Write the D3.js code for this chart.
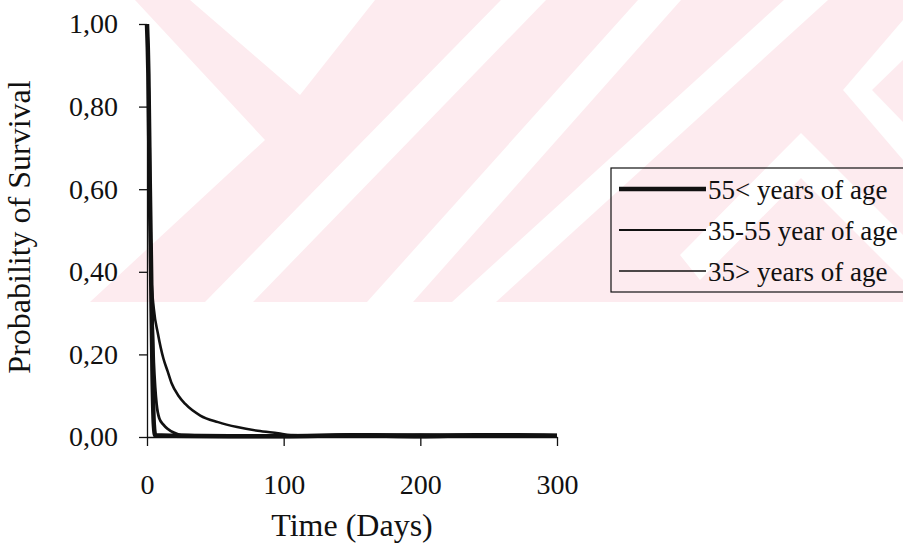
<!DOCTYPE html>
<html>
<head>
<meta charset="utf-8">
<script src="https://cdnjs.cloudflare.com/ajax/libs/d3/7.8.5/d3.min.js"></script>
<style>
  html, body { margin: 0; padding: 0; background: #fff; }
  svg { display: block; font-family: "Liberation Serif", "Times New Roman", serif; }
</style>
</head>
<body>
<div id="chart"></div>
<script>
// survival curves (day, probability)
const seriesNames = ['55< years of age', '35-55 year of age', '35> years of age'];

const daysOld  = [0, 1, 2, 3, 4, 5, 6, 20, 60, 100, 150, 200, 240, 270, 300];
const survOld  = [1.0, 0.88, 0.62, 0.40, 0.16, 0.03, 0.004, 0.003, 0.002, 0.002, 0.004, 0.002, 0.004, 0.004, 0.003];

const daysMid  = [0, 1, 2, 3, 4, 5, 6, 7, 9, 12, 15, 20, 25, 60, 100, 160, 200, 260, 300];
const survMid  = [1.0, 0.9, 0.6, 0.42, 0.28, 0.18, 0.12, 0.08, 0.045, 0.03, 0.02, 0.01, 0.005, 0.002, 0.001, 0.006, 0.005, 0.004, 0.004];

const daysYoung = [0, 1, 2, 3, 5, 8, 12, 15, 18, 23, 28, 39, 52, 66, 81, 96, 105, 150, 200, 250, 300];
const survYoung = [1.0, 0.9, 0.7, 0.40, 0.31, 0.25, 0.19, 0.16, 0.13, 0.10, 0.08, 0.052, 0.036, 0.024, 0.015, 0.009, 0.005, 0.002, 0.006, 0.005, 0.005];

const xTicks = [0, 100, 200, 300];
const yTicks = [0, 0.2, 0.4, 0.6, 0.8, 1.0];

const width = 903, height = 558;

const svg = d3.select('#chart').append('svg')
  .attr('width', width)
  .attr('height', height);

// faint pink thesis watermark across the top of the page
const wm = svg.append('g');
wm.append('rect').attr('x', 0).attr('y', 0).attr('width', width).attr('height', 302).attr('fill', '#fdebef');
const whiteBands = [
  [[0, 0], [135, 0], [265, 140], [90, 302], [0, 302]],
  [[190, 0], [375, 0], [300, 95]],
  [[501, 0], [546, 0], [253, 302], [205, 302]],
  [[638, 0], [681, 0], [413, 302], [367, 302]],
  [[784, 0], [828, 0], [496, 302], [452, 302]],
  [[903, 20], [903, 60], [872, 90], [903, 122], [903, 160], [843, 90]],
  [[801, 133], [903, 235], [903, 280], [801, 178], [700, 280], [680, 255]]
];
wm.selectAll('polygon').data(whiteBands).join('polygon')
  .attr('points', d => d.map(p => p.join(',')).join(' '))
  .attr('fill', '#fff');

const x = d3.scaleLinear().domain([0, 300]).range([147, 557]);
const y = d3.scaleLinear().domain([0, 1]).range([437, 24]);

const commaFmt = d => d3.format('.2f')(d).replace('.', ',');

const gy = svg.append('g')
  .attr('transform', `translate(${x(0)},0)`)
  .call(d3.axisLeft(y).tickValues(yTicks).tickFormat(commaFmt).tickSize(8).tickSizeOuter(0).tickPadding(21));

const gx = svg.append('g')
  .attr('transform', `translate(0,${y(0)})`)
  .call(d3.axisBottom(x).tickValues(xTicks).tickFormat(d3.format('d')).tickSize(9).tickSizeOuter(0).tickPadding(28));

[gx, gy].forEach(g => {
  g.selectAll('path, line').attr('stroke', '#111').attr('stroke-width', 1.3);
  g.selectAll('text').attr('fill', '#111').attr('font-size', 28)
    .attr('font-family', '"Liberation Serif", "Times New Roman", serif');
});

const series = [
  { name: seriesNames[0], days: daysOld, surv: survOld, w: 4.5, lw: 4.5 },
  { name: seriesNames[1], days: daysMid, surv: survMid, w: 2.8, lw: 2.2 },
  { name: seriesNames[2], days: daysYoung, surv: survYoung, w: 2.6, lw: 1.6 }
];

const line = d3.line()
  .x(d => x(d[0]))
  .y(d => y(d[1]))
  .curve(d3.curveMonotoneX);

svg.append('g').selectAll('path').data(series).join('path')
  .attr('fill', 'none')
  .attr('stroke', '#111')
  .attr('stroke-width', d => d.w)
  .attr('stroke-linejoin', 'round')
  .attr('d', d => line(d.days.map((t, i) => [t, d.surv[i]])));

// axis titles
svg.append('text')
  .attr('x', x(150))
  .attr('y', 536)
  .attr('text-anchor', 'middle')
  .attr('font-size', 32)
  .attr('fill', '#111')
  .text('Time (Days)');

svg.append('text')
  .attr('transform', 'translate(30,227) rotate(-90)')
  .attr('text-anchor', 'middle')
  .attr('font-size', 32)
  .attr('fill', '#111')
  .text('Probability of Survival');

// legend
const legend = svg.append('g').attr('transform', 'translate(611,168)');
legend.append('rect')
  .attr('width', 320).attr('height', 124)
  .attr('fill', 'none').attr('stroke', '#111').attr('stroke-width', 1.2);

const rows = legend.selectAll('g.row').data(series).join('g')
  .attr('class', 'row')
  .attr('transform', (d, i) => `translate(0,${21 + i * 41})`);
rows.append('line')
  .attr('x1', 8).attr('x2', 95)
  .attr('stroke', '#111')
  .attr('stroke-width', d => d.lw);
rows.append('text')
  .attr('x', 97).attr('y', 10)
  .attr('font-size', 27)
  .attr('fill', '#111')
  .text(d => d.name);
</script>
</body>
</html>
